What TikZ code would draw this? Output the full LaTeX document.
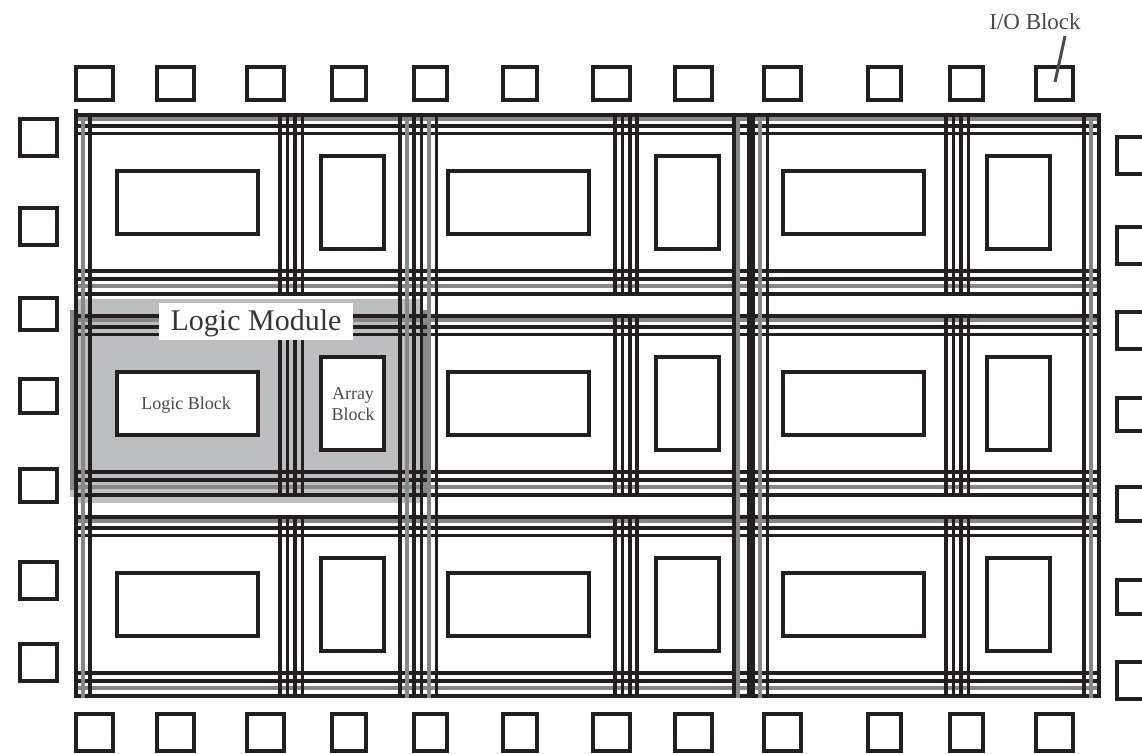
\documentclass[tikz,border=0pt]{standalone}
\usepackage{fontspec}
\setmainfont{Liberation Serif}
\definecolor{ink}{HTML}{231F20}
\definecolor{midgrey}{HTML}{868888}
\definecolor{lightgrey}{HTML}{BCBEC0}
\definecolor{softink}{HTML}{4A4A4A}
\tikzset{
  blockbox/.style={draw=ink,line width=4pt,fill=white,inner sep=0pt,outer sep=0pt},
  wire/.style={draw=ink,line width=4pt},
  thinwire/.style={draw=ink,line width=3.2pt},
  greywire/.style={draw=midgrey,line width=4pt},
  smalltext/.style={text=softink,inner sep=0pt,align=center}
}
% \boxat{name}{x1}{y1}{x2}{y2}: outer edges in pixels
\newcommand{\boxat}[5]{%
  \pgfmathsetmacro{\bcx}{(#2+#4)/2}%
  \pgfmathsetmacro{\bcy}{(#3+#5)/2}%
  \pgfmathsetmacro{\bw}{#4-#2-4}%
  \pgfmathsetmacro{\bh}{#5-#3-4}%
  \node[blockbox,minimum width=\bw pt,minimum height=\bh pt] (#1) at (\bcx,\bcy) {};}
\begin{document}
\begin{tikzpicture}[x=1pt,y=-1pt]
\useasboundingbox (0,0) rectangle (1142,754);
% logic module highlight
\fill[lightgrey] (77,299) rectangle (422,503);
\fill[lightgrey] (70,310) rectangle (431,497);
\fill[midgrey] (70,310) rectangle (76,490);
\fill[midgrey] (423,310) rectangle (431,493);
% horizontal channels
\foreach \y in {115,126,271,279,294,316,327,472,480,495,517,528,673,681,696}
  \draw[wire] (74,\y) -- (1099,\y);
\foreach \y in {133.5,334.5,535.5}
  \draw[thinwire] (74,\y) -- (1099,\y);
\foreach \y in {119,286,320,487,521,688}
  \draw[greywire] (77,\y) -- (1097,\y);
% short vertical groups within each band
\foreach \ya/\yb in {115/296,316/497,517/698}{
  \foreach \x in {280,295,615,630,946,961}
    \draw[wire] (\x,\ya) -- (\x,\yb);
  \foreach \x in {287.5,302.5,622.5,637,953.5,968.5}
    \draw[thinwire] (\x,\ya) -- (\x,\yb);
}
% long vertical channels
\draw[wire] (75.5,109) -- (75.5,698);
\foreach \x in {90,399.5,414,734,1084,1099}
  \draw[wire] (\x,113) -- (\x,698);
\foreach \x in {421.5,436.5,767.5}
  \draw[thinwire] (\x,113) -- (\x,698);
\draw[draw=ink,line width=8pt] (751,113) -- (751,698);
\foreach \x in {83,406.5,429,738,760,1091}
  \draw[greywire] (\x,117) -- (\x,698);
% logic and array blocks
\foreach \r/\ya/\yb/\yc/\yd in {1/169/236/154/251,2/370/437/355/452,3/571/638/556/653}{
  \boxat{logicA\r}{115}{\ya}{260}{\yb}
  \boxat{arrayA\r}{319}{\yc}{386}{\yd}
  \boxat{logicB\r}{446}{\ya}{591}{\yb}
  \boxat{arrayB\r}{654}{\yc}{721}{\yd}
  \boxat{logicC\r}{781}{\ya}{926}{\yb}
  \boxat{arrayC\r}{985}{\yc}{1052}{\yd}
}
% I/O blocks, top and bottom rows
\foreach \i/\xa/\xb in {1/74/115,2/155/196,3/245/286,4/330/368,5/412/449,6/501/539,7/591/632,8/673/714,9/762/803,10/866/903,11/948/985,12/1034/1075}{
  \boxat{top\i}{\xa}{65}{\xb}{102}
  \boxat{bot\i}{\xa}{712}{\xb}{753}
}
% I/O blocks, left column
\foreach \i/\ya/\yb in {1/117/158,2/206/247,3/296/332,4/377/415,5/467/504,6/560/601,7/642/683}
  \boxat{left\i}{18}{\ya}{59}{\yb}
% I/O blocks, right column (cut by the picture edge)
\foreach \ya/\yb in {135/176,225/266,310/351,396/433,485/523,578/616,660/701}
  \draw[draw=ink,line width=4pt] (1142,\ya+2) -- (1117,\ya+2) -- (1117,\yb-2) -- (1142,\yb-2);
% labels
\node[fill=white,minimum width=194pt,text height=27pt,text depth=10pt,inner sep=0pt,text=ink!90!white,font=\fontsize{30}{30}\selectfont] (modulelabel) at (256,321.5) {Logic Module};
\node[smalltext,font=\fontsize{18}{18}\selectfont] (logiclabel) at (186,405) {Logic Block};
\node[smalltext,font=\fontsize{18}{21}\selectfont] (arraylabel) at (353,404) {Array\\Block};
\node[smalltext,font=\fontsize{23}{23}\selectfont] (iolabel) at (1035,22) {I/O Block};
\coordinate (iostart) at (1065,36);
\coordinate (ioend) at (1055,82);
\draw[draw=softink,line width=3pt] (iostart) -- (ioend);
\end{tikzpicture}
\end{document}
